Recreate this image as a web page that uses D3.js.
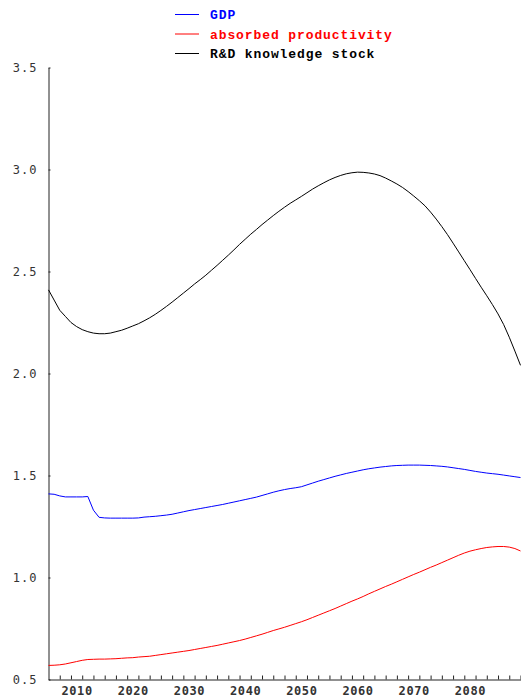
<!DOCTYPE html>
<html>
<head>
<meta charset="utf-8">
<script src="https://cdn.jsdelivr.net/npm/d3@7"></script>
<style>
body { margin: 0; background: #fff; }
svg { display: block; }
</style>
</head>
<body>
<svg id="chart"></svg>
<script>
var width = 521, height = 698;

// one value per year, 2005..2089
var years = d3.range(2005, 2090);

var gdp = [1.41, 1.408, 1.40, 1.395, 1.395, 1.395, 1.395, 1.397, 1.33, 1.295,
  1.292, 1.291, 1.291, 1.291, 1.291, 1.291, 1.292, 1.296, 1.298, 1.30,
  1.303, 1.306, 1.31, 1.316, 1.322, 1.328, 1.333, 1.338, 1.343, 1.348,
  1.353, 1.358, 1.364, 1.37, 1.376, 1.382, 1.388, 1.394, 1.402, 1.41,
  1.418, 1.425, 1.431, 1.436, 1.44, 1.445, 1.454, 1.463, 1.472, 1.48,
  1.488, 1.496, 1.503, 1.51, 1.516, 1.522, 1.528, 1.533, 1.537, 1.541,
  1.544, 1.547, 1.549, 1.55, 1.551, 1.551, 1.551, 1.55, 1.549, 1.547,
  1.545, 1.542, 1.538, 1.534, 1.53, 1.525, 1.52, 1.516, 1.512, 1.509,
  1.506, 1.502, 1.498, 1.494, 1.49];

var absorbed = [0.569, 0.57, 0.572, 0.576, 0.582, 0.588, 0.594, 0.598, 0.599, 0.60,
  0.60, 0.601, 0.602, 0.604, 0.606, 0.607, 0.61, 0.612, 0.614, 0.618,
  0.622, 0.626, 0.63, 0.634, 0.638, 0.642, 0.647, 0.652, 0.657, 0.662,
  0.667, 0.673, 0.679, 0.685, 0.691, 0.698, 0.706, 0.714, 0.722, 0.731,
  0.74, 0.748, 0.756, 0.765, 0.774, 0.783, 0.793, 0.804, 0.815, 0.826,
  0.837, 0.848, 0.86, 0.872, 0.884, 0.895, 0.907, 0.92, 0.932, 0.944,
  0.956, 0.967, 0.979, 0.991, 1.003, 1.015, 1.026, 1.038, 1.05, 1.061,
  1.073, 1.085, 1.097, 1.109, 1.12, 1.129, 1.136, 1.142, 1.147, 1.15,
  1.152, 1.152, 1.149, 1.142, 1.13];

var knowledge = [2.41, 2.36, 2.31, 2.28, 2.25, 2.23, 2.215, 2.205, 2.198, 2.195,
  2.195, 2.198, 2.205, 2.212, 2.222, 2.233, 2.244, 2.258, 2.273, 2.29,
  2.309, 2.329, 2.35, 2.372, 2.394, 2.416, 2.439, 2.46, 2.482, 2.506,
  2.53, 2.555, 2.58, 2.606, 2.633, 2.658, 2.683, 2.706, 2.73, 2.752,
  2.774, 2.795, 2.815, 2.834, 2.851, 2.868, 2.886, 2.904, 2.92, 2.935,
  2.949, 2.961, 2.971, 2.979, 2.984, 2.987, 2.986, 2.983, 2.978, 2.97,
  2.958, 2.944, 2.929, 2.912, 2.892, 2.87, 2.847, 2.822, 2.791, 2.757,
  2.72, 2.681, 2.639, 2.596, 2.553, 2.51, 2.466, 2.423, 2.381, 2.338,
  2.292, 2.24, 2.178, 2.11, 2.04];

var seriesNames = ["GDP", "absorbed productivity", "R&D knowledge stock"];
var seriesColors = ["#0000ff", "#ff0000", "#000000"];
var seriesValues = [gdp, absorbed, knowledge];

var yTicks = [0.5, 1.0, 1.5, 2.0, 2.5, 3.0, 3.5];
var xLabels = [2010, 2020, 2030, 2040, 2050, 2060, 2070, 2080];
var xMinor = d3.range(2007, 2090, 2);

var svg = d3.select("#chart")
  .attr("width", width)
  .attr("height", height);

var x = d3.scaleLinear().domain([2005, 2089]).range([48.5, 520.5]);
var y = d3.scaleLinear().domain([0.5, 3.5]).range([679.5, 67.5]);

// y axis
var yAxis = svg.append("g")
  .attr("transform", "translate(48.5,0)")
  .call(d3.axisLeft(y).tickValues(yTicks).tickSizeInner(-2).tickSizeOuter(0)
    .tickPadding(11).tickFormat(d3.format(".1f")));

// x axis: labels
var xAxis = svg.append("g")
  .attr("transform", "translate(0,679.5)")
  .call(d3.axisBottom(x).tickValues(xLabels).tickSizeInner(0).tickSizeOuter(0)
    .tickPadding(7).tickFormat(d3.format("d")));

// x axis: small ticks pointing up
svg.append("g")
  .attr("transform", "translate(0,679.5)")
  .call(d3.axisBottom(x).tickValues(xMinor).tickSizeInner(-4).tickSizeOuter(0)
    .tickFormat(""))
  .select(".domain").remove();

svg.selectAll(".domain, .tick line").attr("stroke", "#222");
yAxis.selectAll("text")
  .style("font-family", "'DejaVu Sans Mono', monospace")
  .style("font-size", "12px")
  .style("letter-spacing", "1px")
  .attr("fill", "#333");
xAxis.selectAll("text")
  .style("font-family", "'DejaVu Sans Mono', monospace")
  .style("font-size", "12px")
  .style("font-weight", "bold")
  .style("letter-spacing", "0.6px")
  .attr("fill", "#333");

// lines
var line = d3.line()
  .x(function(d, i) { return x(years[i]); })
  .y(function(d) { return y(d); });

svg.selectAll("path.series")
  .data(seriesValues)
  .enter()
  .append("path")
  .attr("class", "series")
  .attr("d", line)
  .attr("fill", "none")
  .attr("stroke", function(d, i) { return seriesColors[i]; })
  .attr("stroke-width", 1);

// legend
var legend = svg.selectAll("g.legend")
  .data(seriesNames)
  .enter()
  .append("g")
  .attr("class", "legend")
  .attr("transform", function(d, i) { return "translate(175," + (14.5 + i * 19.5) + ")"; });

legend.append("line")
  .attr("x1", 0).attr("x2", 24)
  .attr("stroke", function(d, i) { return seriesColors[i]; });

legend.append("text")
  .attr("x", 35)
  .attr("dy", "0.35em")
  .attr("fill", function(d, i) { return seriesColors[i]; })
  .style("font-family", "'Liberation Mono', monospace")
  .style("font-size", "13px")
  .style("font-weight", "bold")
  .style("letter-spacing", "0.9px")
  .text(function(d) { return d; });
</script>
</body>
</html>
